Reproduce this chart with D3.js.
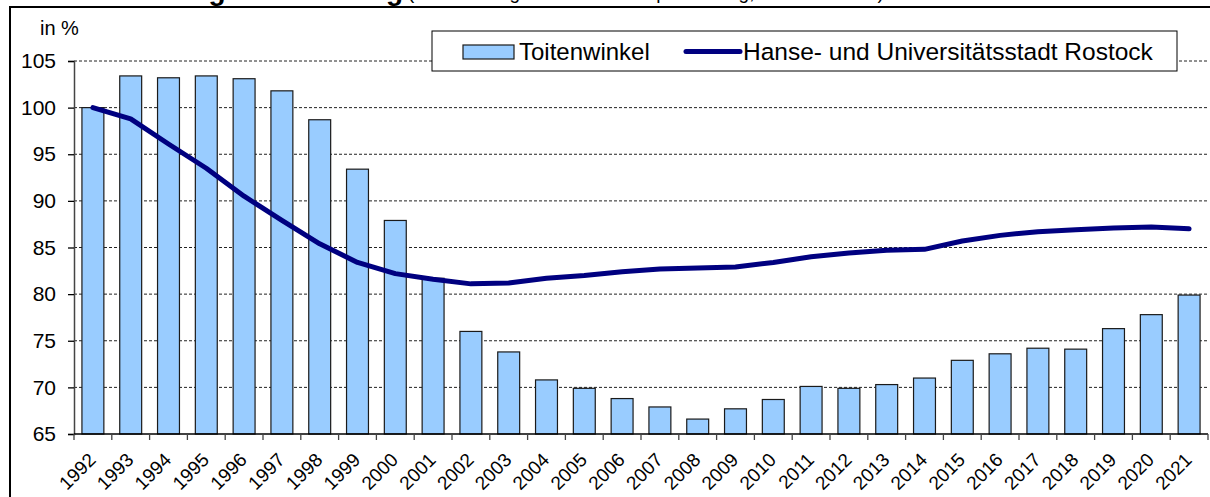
<!DOCTYPE html>
<meta charset="utf-8">
<script src="https://d3js.org/d3.v7.min.js"></script>
<style>
  body { margin: 0; background: #fff; }
  text { font-family: Arial, "Liberation Sans", sans-serif; }
</style>
<div id="chart"></div>
<script>

// years on the x axis
var years = ["1992","1993","1994","1995","1996","1997","1998","1999","2000","2001",
  "2002","2003","2004","2005","2006","2007","2008","2009","2010","2011",
  "2012","2013","2014","2015","2016","2017","2018","2019","2020","2021"];

// Toitenwinkel (bars), index 1992 = 100
var toitenwinkel = [100.0,103.4,103.2,103.4,103.1,101.8,98.7,93.4,87.9,81.7,
  76.0,73.8,70.8,69.9,68.8,67.9,66.6,67.7,68.7,70.1,
  69.9,70.3,71.0,72.9,73.6,74.2,74.1,76.3,77.8,79.9];

// Hanse- und Universitaetsstadt Rostock (line)
var rostock = [100.0,98.8,96.1,93.5,90.5,87.9,85.4,83.4,82.2,81.6,
  81.1,81.2,81.7,82.0,82.4,82.7,82.8,82.9,83.4,84.0,
  84.4,84.7,84.8,85.7,86.3,86.7,86.9,87.1,87.2,87.0];

var yTicks = [65,70,75,80,85,90,95,100,105];
var seriesNames = ["Toitenwinkel", "Hanse- und Universitätsstadt Rostock"];

var W = 1210, H = 497;
var plotLeft = 74, plotRight = 1208, plotTop = 61, plotBottom = 434;

var svg = d3.select("#chart").append("svg")
  .attr("width", W)
  .attr("height", H);

// title (mostly cut off by the picture edge)
svg.append("text")
  .attr("x", 403).attr("y", 0)
  .attr("text-anchor", "end")
  .style("font-size", "28px")
  .style("font-weight", "bold")
  .text("Bevölkerungsentwicklung");
svg.append("text")
  .attr("x", 408).attr("y", -1)
  .style("font-size", "19px")
  .text("(Bevölkerung am Ort der Hauptwohnung, 1992 = 100 %)");

// outer frame
svg.append("rect")
  .attr("x", 10).attr("y", 7)
  .attr("width", 1240).attr("height", 520)
  .attr("fill", "none")
  .attr("stroke", "#000")
  .attr("stroke-width", 2);

var x = d3.scaleBand()
  .domain(years)
  .range([plotLeft, plotRight])
  .paddingInner(0.42)
  .paddingOuter(0.21);

var step = x.step();

var y = d3.scaleLinear()
  .domain([65, 105])
  .range([plotBottom, plotTop]);

// gridlines
svg.append("g")
  .selectAll("line")
  .data(yTicks.filter(function(d) { return d > 65; }))
  .enter().append("line")
  .attr("x1", plotLeft).attr("x2", plotRight)
  .attr("y1", function(d) { return y(d); })
  .attr("y2", function(d) { return y(d); })
  .attr("stroke", "#222")
  .attr("stroke-width", 1)
  .attr("stroke-dasharray", "3,2");

// bars
svg.append("g")
  .selectAll("rect")
  .data(toitenwinkel)
  .enter().append("rect")
  .attr("x", function(d, i) { return x(years[i]); })
  .attr("y", function(d) { return y(d); })
  .attr("width", x.bandwidth())
  .attr("height", function(d) { return plotBottom - y(d); })
  .attr("fill", "#99ccff")
  .attr("stroke", "#1a1a1a")
  .attr("stroke-width", 1.2);

// y axis
var yAxis = svg.append("g")
  .attr("transform", "translate(" + plotLeft + ",0)")
  .call(d3.axisLeft(y).tickValues(yTicks).tickSize(6).tickPadding(12));
yAxis.select(".domain").attr("stroke", "#444").attr("stroke-width", 1.5);
yAxis.selectAll(".tick line").attr("stroke", "#000").attr("stroke-width", 1.3);
yAxis.selectAll("text")
  .style("font-size", "21px")
  .attr("fill", "#000");

// x axis: ticks at band boundaries
var xg = svg.append("g");
xg.append("line")
  .attr("x1", plotLeft).attr("x2", plotRight)
  .attr("y1", plotBottom).attr("y2", plotBottom)
  .attr("stroke", "#000").attr("stroke-width", 1.5);
var bounds = years.map(function(d) { return x(d) + x.bandwidth() / 2 - step / 2; });
bounds.push(plotRight);
xg.selectAll(".xt")
  .data(bounds)
  .enter().append("line")
  .attr("class", "xt")
  .attr("x1", function(d) { return d; })
  .attr("x2", function(d) { return d; })
  .attr("y1", plotBottom).attr("y2", plotBottom + 6)
  .attr("stroke", "#444").attr("stroke-width", 1.3);
xg.selectAll(".xl")
  .data(years)
  .enter().append("text")
  .attr("class", "xl")
  .attr("text-anchor", "end")
  .attr("transform", function(d) {
    return "translate(" + (x(d) + x.bandwidth() / 2 + 4) + "," + (plotBottom + 27) + ") rotate(-45)";
  })
  .style("font-size", "19px")
  .text(function(d) { return d; });

// Rostock line
var line = d3.line()
  .x(function(d, i) { return x(years[i]) + x.bandwidth() / 2; })
  .y(function(d) { return y(d); });

svg.append("path")
  .datum(rostock)
  .attr("d", line)
  .attr("fill", "none")
  .attr("stroke", "#000080")
  .attr("stroke-width", 5)
  .attr("stroke-linejoin", "round")
  .attr("stroke-linecap", "round");

// "in %"
svg.append("text")
  .attr("x", 40).attr("y", 35)
  .style("font-size", "20px")
  .text("in %");

// legend
var lg = svg.append("g");
lg.append("rect")
  .attr("x", 432).attr("y", 31)
  .attr("width", 745).attr("height", 40)
  .attr("fill", "#fff")
  .attr("stroke", "#000")
  .attr("stroke-width", 1);
lg.append("rect")
  .attr("x", 463).attr("y", 45)
  .attr("width", 51).attr("height", 14)
  .attr("fill", "#99ccff")
  .attr("stroke", "#1a1a1a")
  .attr("stroke-width", 1.2);
lg.append("text")
  .attr("x", 519).attr("y", 60)
  .style("font-size", "24px")
  .text(seriesNames[0]);
lg.append("line")
  .attr("x1", 686).attr("x2", 740)
  .attr("y1", 51.5).attr("y2", 51.5)
  .attr("stroke", "#000080")
  .attr("stroke-width", 5)
  .attr("stroke-linecap", "round");
lg.append("text")
  .attr("x", 743).attr("y", 60)
  .style("font-size", "24.5px")
  .text(seriesNames[1]);

</script>
